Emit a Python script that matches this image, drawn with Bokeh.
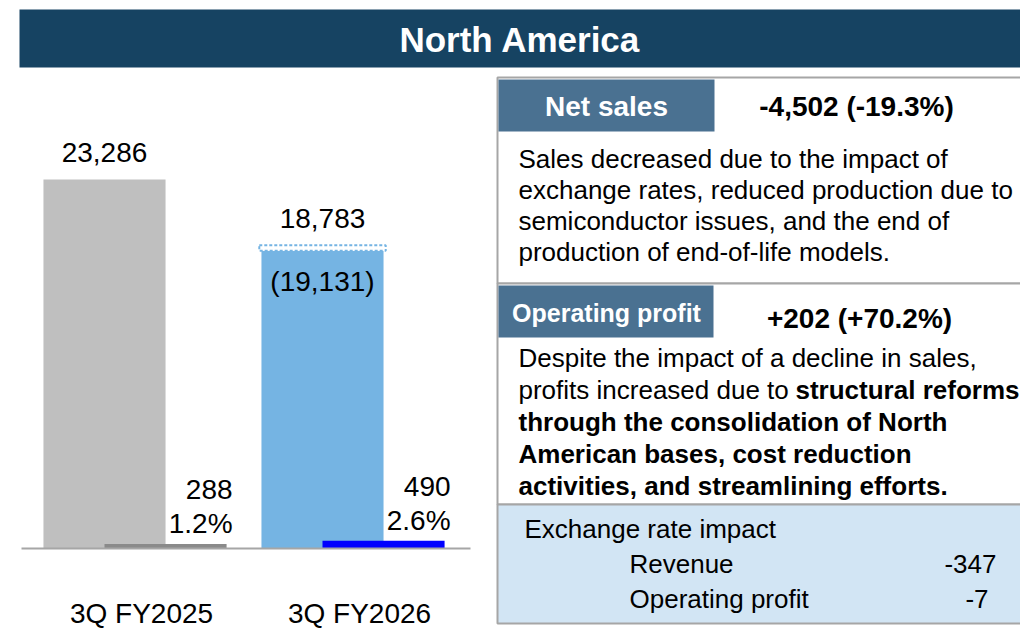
from bokeh.plotting import figure
from bokeh.models import Range1d, ColumnDataSource
from bokeh.embed import file_html
from bokeh.resources import INLINE
from bokeh.core.properties import value

# ---------------- data ----------------
categories = ["3Q FY2025", "3Q FY2026"]
net_sales = [23286, 18783]
op_profit = [288, 490]
fx_adjusted_sales = 19131          # 3Q FY2026 sales excluding exchange-rate impact
fx_impact_revenue = -347
fx_impact_profit = -7

title = "North America"
sales_head = "Net sales"
sales_change = "-4,502 (-19.3%)"
sales_body = ["Sales decreased due to the impact of",
              "exchange rates, reduced production due to",
              "semiconductor issues, and the end of",
              "production of end-of-life models."]
profit_head = "Operating profit"
profit_change = "+202 (+70.2%)"
profit_body_regular = ["Despite the impact of a decline in sales,",
                       "profits increased due to "]
profit_body_bold_inline = "structural reforms"
profit_body_bold = ["through the consolidation of North",
                    "American bases, cost reduction",
                    "activities, and streamlining efforts."]
fx_head = "Exchange rate impact"
fx_items = ["Revenue", "Operating profit"]

# ---------------- styles ----------------
sales_colors = ["#bfbfbf", "#75b4e3"]
profit_colors = ["#8a8a8a", "#0000ff"]
NAVY = "#164362"
STEEL = "#4a7191"
PALE = "#d2e5f4"
BORDER = "#a6a6a6"
FONT = value("Liberation Sans")

W, H = 1020, 632


def X(rx):
    return rx


def Y(ry):
    return H - ry


p = figure(width=W, height=H, x_range=Range1d(0, W), y_range=Range1d(0, H),
           output_backend="svg", toolbar_location=None, min_border=0,
           x_axis_location=None, y_axis_location=None)
p.grid.visible = False
p.outline_line_color = None
p.background_fill_color = "white"

# scales for the bar chart
PX_PER_UNIT = 369 / 23286.0
BASE = Y(548)
CAT_PX = 218.0
CAT0 = X(104)
p.extra_y_ranges = {"val": Range1d(-BASE / PX_PER_UNIT, (H - BASE) / PX_PER_UNIT)}
p.extra_x_ranges = {"cat": Range1d(-CAT0 / CAT_PX, (W - CAT0) / CAT_PX)}

idx = list(range(len(categories)))
BW = 0.56

src = ColumnDataSource(dict(
    x=idx,
    xp=[i + BW / 2 for i in idx],
    xl=[i + 0.17 for i in idx],
    sales=net_sales,
    profit=op_profit,
    scol=sales_colors,
    pcol=profit_colors,
    slabel=[f"{v:,}" for v in net_sales],
    stop=[net_sales[0], max(net_sales[1], fx_adjusted_sales)],
    plabel=[f"{v:,}" for v in op_profit],
    pct=[f"{100.0 * pr / s:.1f}%" for pr, s in zip(op_profit, net_sales)],
    cat=categories,
))

MID = dict(text_font=FONT, text_baseline="middle", text_color="black")

# header
p.quad(left=[X(19)], right=[W + 2], top=[Y(9)], bottom=[Y(67)],
       fill_color=NAVY, line_color=None)
p.text(x=[(X(19) + W) / 2], y=[Y(39)], text=[title], text_font=FONT,
       text_font_style="bold", text_font_size="35px", text_color="white",
       text_align="center", text_baseline="middle")

# sales bars
p.vbar(x="x", top="sales", bottom=0, width=BW, fill_color="scol", line_color=None,
       source=src, x_range_name="cat", y_range_name="val")
# fx-adjusted outline for 3Q FY2026
p.quad(left=[1 - BW / 2 - 0.01], right=[1 + BW / 2 + 0.01], bottom=[net_sales[1]],
       top=[fx_adjusted_sales], fill_color="white", line_color=sales_colors[1],
       line_dash="3 2", line_width=2, x_range_name="cat", y_range_name="val")
# profit bars
p.vbar(x="xp", top="profit", bottom=0, width=BW, fill_color="pcol", line_color=None,
       source=src, x_range_name="cat", y_range_name="val")
# baseline
p.segment(x0=[X(21)], x1=[X(470)], y0=[0], y1=[0], line_color=BORDER, line_width=2,
          y_range_name="val")

# labels
p.text(x="x", y="stop", text="slabel", source=src, x_range_name="cat", y_range_name="val",
       text_font_size="28px", text_align="center", y_offset=-27, **MID)
p.text(x=[1], y=[fx_adjusted_sales], text=[f"({fx_adjusted_sales:,})"],
       x_range_name="cat", y_range_name="val", text_font_size="28px",
       text_align="center", y_offset=36, **MID)
p.text(x="xp", y="profit", text="plabel", source=src, x_range_name="cat", y_range_name="val",
       text_font_size="28px", text_align="right", x_offset=67, y_offset=-54, **MID)
p.text(x="xp", y="profit", text="pct", source=src, x_range_name="cat", y_range_name="val",
       text_font_size="28px", text_align="right", x_offset=67, y_offset=-20, **MID)
p.text(x="xl", y=Y(613), text="cat", source=src, x_range_name="cat",
       text_font_size="28px", text_align="center", **MID)

# ---------------- right panel ----------------
RL = X(497)
RR = W + 4
p.quad(left=[RL, RL], right=[RR, RR], top=[Y(77), Y(283)], bottom=[Y(283), Y(504)],
       fill_color="white", line_color=BORDER, line_width=2)
p.quad(left=[RL], right=[RR], top=[Y(504)], bottom=[Y(623)],
       fill_color=PALE, line_color=BORDER, line_width=2)
# heading boxes
p.quad(left=[RL + 1, RL + 1], right=[X(714), X(713)], top=[Y(79), Y(285)],
       bottom=[Y(131), Y(337)], fill_color=STEEL, line_color=None)
p.text(x=[X(606)], y=[Y(106)], text=[sales_head], text_font=FONT, text_font_style="bold",
       text_font_size="28px", text_color="white", text_align="center", text_baseline="middle")
p.text(x=[X(856)], y=[Y(106)], text=[sales_change], text_font_style="bold",
       text_font_size="28px", text_align="center", **MID)
p.text(x=[X(606)], y=[Y(312)], text=[profit_head], text_font=FONT, text_font_style="bold",
       text_font_size="25px", text_color="white", text_align="center", text_baseline="middle")
p.text(x=[X(859)], y=[Y(318)], text=[profit_change], text_font_style="bold",
       text_font_size="28px", text_align="center", **MID)

# body text
p.text(x=[X(518)] * len(sales_body), y=[Y(158 + 31 * i) for i in range(len(sales_body))],
       text=sales_body, text_font_size="26px", text_align="left", **MID)
p.text(x=[X(518)] * len(profit_body_regular),
       y=[Y(357 + 32 * i) for i in range(len(profit_body_regular))],
       text=profit_body_regular, text_font_size="26px", text_align="left", **MID)
p.text(x=[X(795)], y=[Y(389)], text=[profit_body_bold_inline], text_font_style="bold",
       text_font_size="26px", text_align="left", **MID)
p.text(x=[X(518)] * len(profit_body_bold),
       y=[Y(421 + 32 * i) for i in range(len(profit_body_bold))],
       text=profit_body_bold, text_font_style="bold", text_font_size="26px",
       text_align="left", **MID)

# exchange rate block
p.text(x=[X(524)], y=[Y(528)], text=[fx_head], text_font_size="26px", text_align="left", **MID)
p.text(x=[X(629), X(629)], y=[Y(563), Y(598)], text=fx_items, text_font_size="26px",
       text_align="left", **MID)
p.text(x=[X(996), X(988)], y=[Y(563), Y(598)],
       text=[f"{fx_impact_revenue:,}", f"{fx_impact_profit:,}"], text_font_size="26px",
       text_align="right", **MID)

open("out.html", "w").write(file_html(p, INLINE))
